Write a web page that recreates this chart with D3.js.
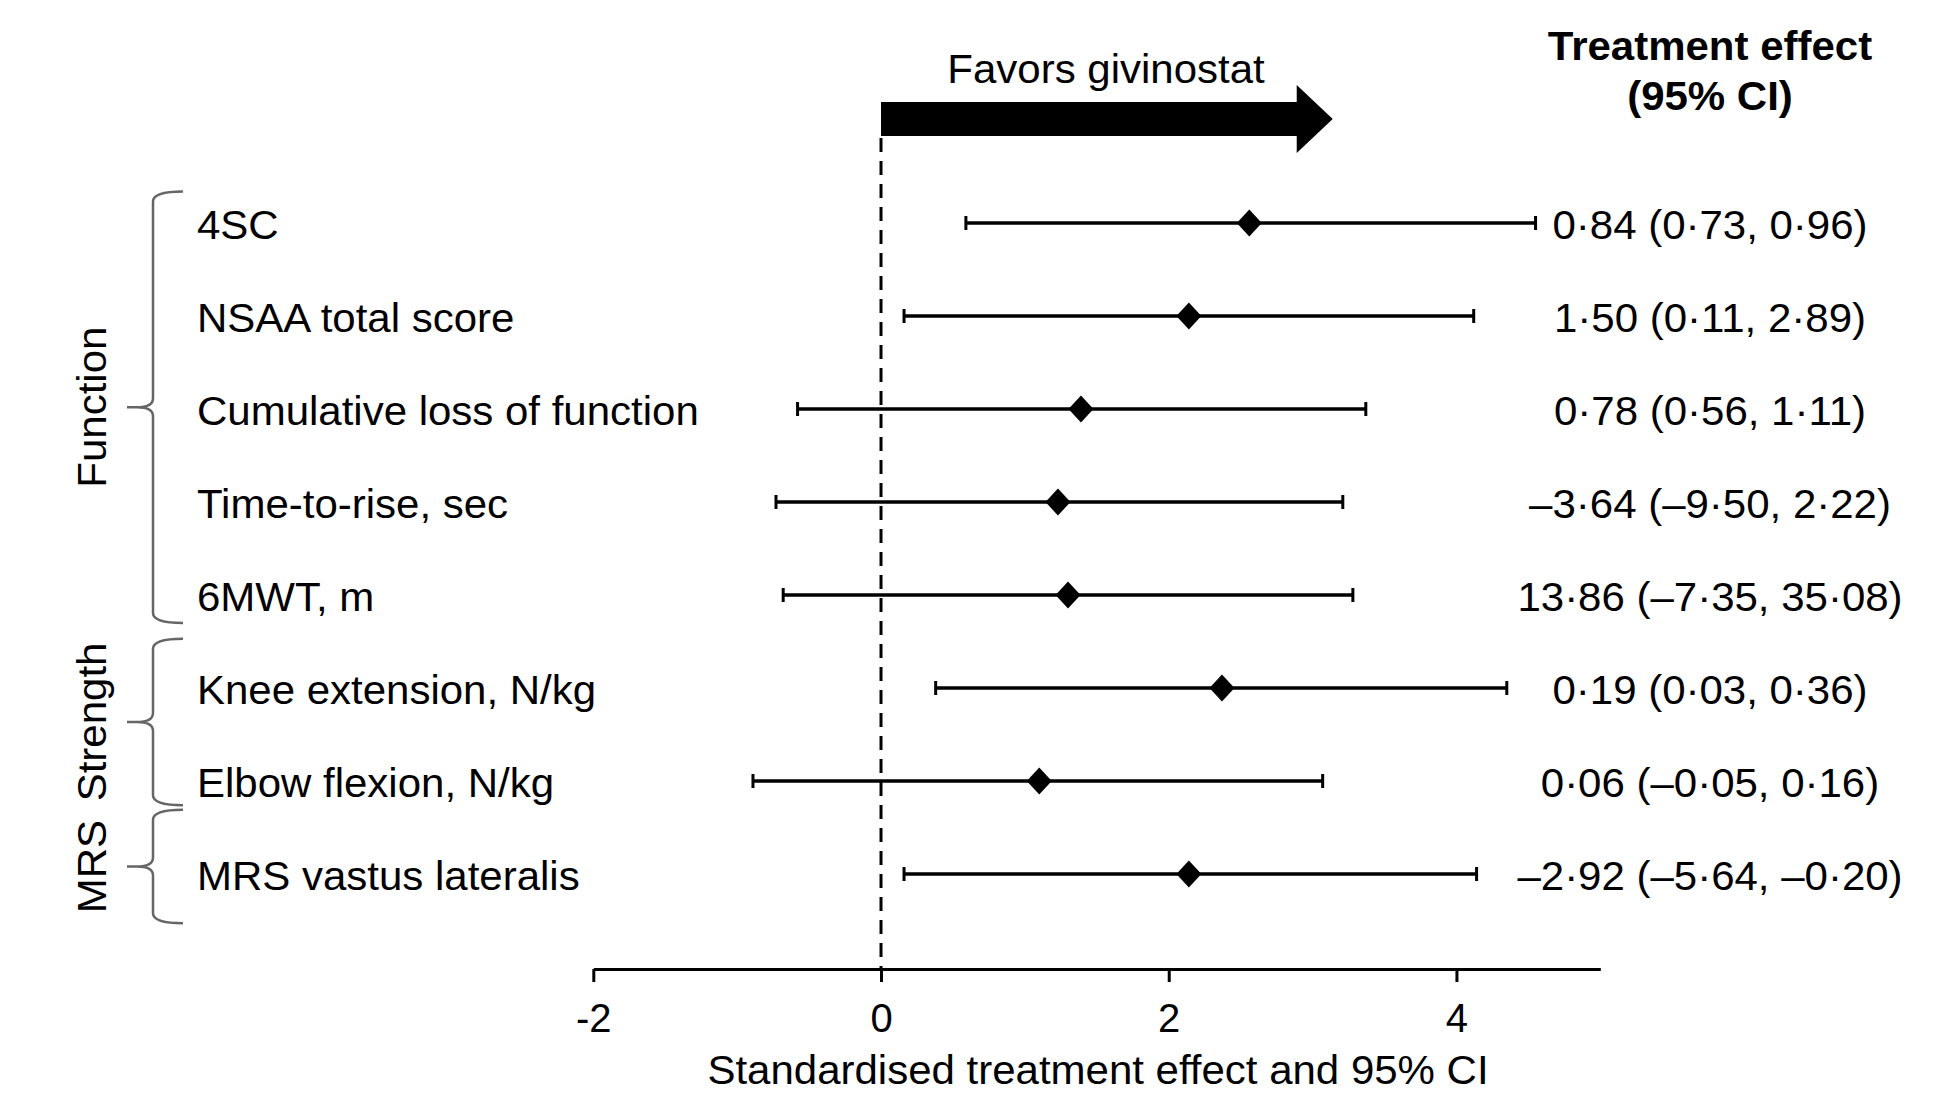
<!DOCTYPE html>
<html>
<head>
<meta charset="utf-8">
<script src="https://cdn.jsdelivr.net/npm/d3@7"></script>
<style>
  body { margin: 0; background: #fff; }
  svg { display: block; font-family: "Liberation Sans", Arial, sans-serif; }
</style>
</head>
<body>
<div id="chart"></div>
<script>
// outcomes, top to bottom
const labels = ['4SC', 'NSAA total score', 'Cumulative loss of function', 'Time-to-rise, sec',
  '6MWT, m', 'Knee extension, N/kg', 'Elbow flexion, N/kg', 'MRS vastus lateralis'];
const estimates = [2.56, 2.14, 1.39, 1.23, 1.30, 2.37, 1.10, 2.14];
const lower = [0.59, 0.16, -0.58, -0.73, -0.68, 0.38, -0.89, 0.16];
const upper = [4.55, 4.12, 3.37, 3.21, 3.28, 4.35, 3.07, 4.14];
const effectText = ['0·84 (0·73, 0·96)', '1·50 (0·11, 2·89)', '0·78 (0·56, 1·11)',
  '–3·64 (–9·50, 2·22)', '13·86 (–7·35, 35·08)', '0·19 (0·03, 0·36)',
  '0·06 (–0·05, 0·16)', '–2·92 (–5·64, –0·20)'];

// groups, extent given in row units
const groupNames = ['Function', 'Strength', 'MRS'];
const groupStart = [-0.34, 4.47, 6.31];
const groupEnd = [4.30, 6.26, 7.53];

const xDomain = [-2, 5];
const xTicks = [-2, 0, 2, 4];
const arrowTip = 3.14;

const W = 1947, H = 1094;
const FS = 40;
const SX = 1.05; // the source type is a little wide

const svg = d3.select('#chart').append('svg')
  .attr('width', W).attr('height', H);

// text placed at (px, py), slightly stretched horizontally
function label(parent, px, py, txt, anchor = 'start', rot = 0) {
  return parent.append('text')
    .attr('transform', `translate(${px},${py}) rotate(${rot}) scale(${SX},1)`)
    .attr('text-anchor', anchor).attr('font-size', FS)
    .text(txt);
}

const x = d3.scaleLinear().domain(xDomain).range([593.3, 1600.3]);
const y = d3.scaleLinear().domain([0, labels.length - 1]).range([223, 874]);
const axisY = 969;

const rows = labels.map((label, i) => ({
  label, est: estimates[i], lo: lower[i], hi: upper[i], txt: effectText[i], i
}));

// reference line at 0
svg.append('line')
  .attr('x1', x(0)).attr('x2', x(0))
  .attr('y1', 138).attr('y2', axisY)
  .attr('stroke', '#000').attr('stroke-width', 3)
  .attr('stroke-dasharray', '14,9');

// favors arrow
const ax0 = x(0), axTip = x(arrowTip), axHead = axTip - 36;
svg.append('path')
  .attr('d', `M${ax0},102 L${axHead},102 L${axHead},85 L${axTip},119 L${axHead},153 L${axHead},136 L${ax0},136 Z`)
  .attr('fill', '#000');
label(svg, 1106, 83, 'Favors givinostat', 'middle');

// column header
const colX = 1710;
label(svg, colX, 60, 'Treatment effect', 'middle').attr('font-weight', 700);
label(svg, colX, 110, '(95% CI)', 'middle').attr('font-weight', 700);

// x axis
const axis = svg.append('g')
  .attr('transform', `translate(0,${axisY})`)
  .call(d3.axisBottom(x).tickValues(xTicks).tickSize(13).tickSizeOuter(0).tickPadding(22)
    .tickFormat(d => d < 0 ? '-' + Math.abs(d) : d));
axis.select('.domain').attr('stroke', '#000').attr('stroke-width', 3);
axis.selectAll('.tick line').attr('stroke', '#000').attr('stroke-width', 3);
axis.selectAll('.tick text')
  .attr('font-size', FS).attr('fill', '#000')
  .attr('font-family', '"Liberation Sans", Arial, sans-serif');

label(svg, 1098, 1084, 'Standardised treatment effect and 95% CI', 'middle');

// rows
const g = svg.selectAll('.row').data(rows).join('g').attr('class', 'row');

g.append('line')
  .attr('x1', d => x(d.lo)).attr('x2', d => x(d.hi))
  .attr('y1', d => y(d.i)).attr('y2', d => y(d.i))
  .attr('stroke', '#000').attr('stroke-width', 3.5);
g.selectAll('.cap').data(d => [[d.lo, d.i], [d.hi, d.i]]).join('line')
  .attr('class', 'cap')
  .attr('x1', d => x(d[0])).attr('x2', d => x(d[0]))
  .attr('y1', d => y(d[1]) - 7).attr('y2', d => y(d[1]) + 7)
  .attr('stroke', '#000').attr('stroke-width', 3);
g.append('path')
  .attr('d', d => {
    const cx = x(d.est), cy = y(d.i);
    return `M${cx},${cy - 13.5} L${cx + 12.5},${cy} L${cx},${cy + 13.5} L${cx - 12.5},${cy} Z`;
  })
  .attr('fill', '#000');

g.each(function (d) {
  const row = d3.select(this);
  label(row, 197, y(d.i) + 16, d.label);
  label(row, colX, y(d.i) + 16, d.txt, 'middle');
});

// group braces
const groups = groupNames.map((name, i) => ({ name, top: y(groupStart[i]), bot: y(groupEnd[i]) }));
const bx = 153, bEnd = 183, bTip = 127;
const gg = svg.selectAll('.grp').data(groups).join('g').attr('class', 'grp');
gg.append('path')
  .attr('d', d => {
    const mid = (d.top + d.bot) / 2;
    return `M${bEnd},${d.top} Q${bx},${d.top} ${bx},${d.top + 10}` +
      ` L${bx},${mid - 9} Q${bx},${mid} ${bTip + 10},${mid} L${bTip},${mid}` +
      ` M${bTip + 10},${mid} Q${bx},${mid} ${bx},${mid + 9}` +
      ` L${bx},${d.bot - 10} Q${bx},${d.bot} ${bEnd},${d.bot}`;
  })
  .attr('fill', 'none').attr('stroke', '#666').attr('stroke-width', 2.5);
gg.each(function (d) {
  label(d3.select(this), 106, (d.top + d.bot) / 2, d.name, 'middle', -90);
});
</script>
</body>
</html>
